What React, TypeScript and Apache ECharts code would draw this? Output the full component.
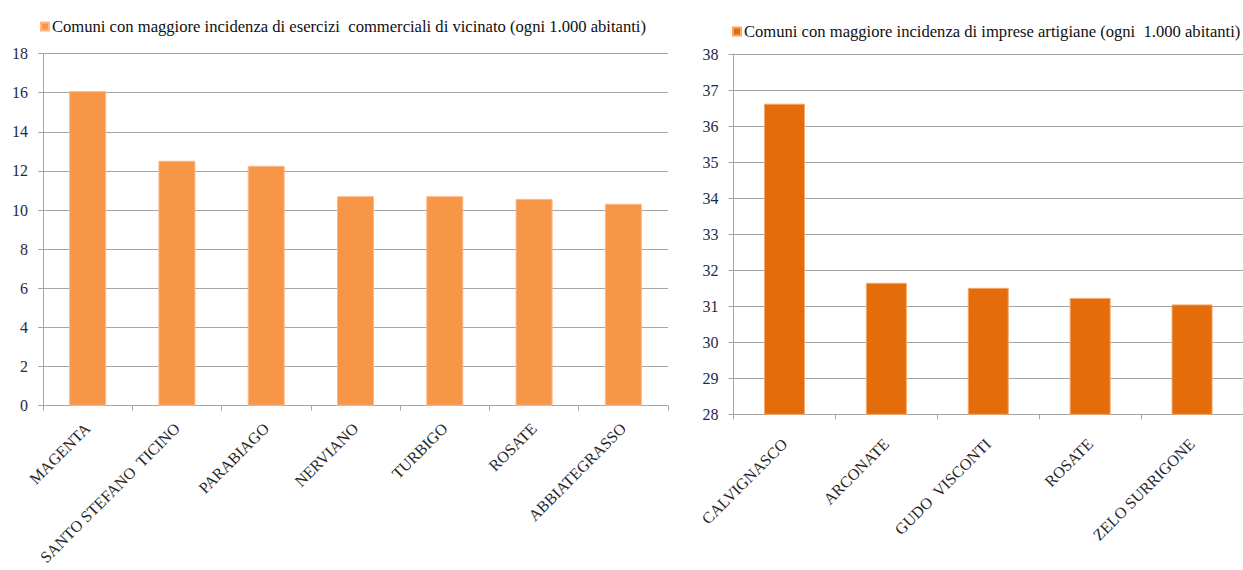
import React, { useEffect, useRef } from "react";
import * as echarts from "echarts";

const leftCategories = ["MAGENTA", "SANTO STEFANO  TICINO", "PARABIAGO", "NERVIANO", "TURBIGO", "ROSATE", "ABBIATEGRASSO"];
const leftValues = [16.08, 12.52, 12.26, 10.71, 10.71, 10.57, 10.32];
const leftName = "Comuni con maggiore incidenza di esercizi  commerciali di vicinato (ogni 1.000 abitanti)";

const rightCategories = ["CALVIGNASCO", "ARCONATE", "GUDO  VISCONTI", "ROSATE", "ZELO SURRIGONE"];
const rightValues = [36.62, 31.65, 31.51, 31.23, 31.05];
const rightName = "Comuni con maggiore incidenza di imprese artigiane (ogni  1.000 abitanti)";

const FONT = "Liberation Serif";
const GRID_COLOR = "#a6a6a6";

export default function App() {
  const ref = useRef<HTMLDivElement>(null);
  useEffect(() => {
    if (!ref.current) return;
    const chart = echarts.init(ref.current, null, { renderer: "svg" });
    const yAxisCommon = {
      type: "value" as const,
      axisLine: { show: true, lineStyle: { color: GRID_COLOR, width: 1 } },
      axisTick: { show: true, length: 5, lineStyle: { color: GRID_COLOR } },
      splitLine: { show: true, lineStyle: { color: GRID_COLOR, width: 1 } },
      axisLabel: { fontFamily: FONT, fontSize: 16, color: "#1f2a48", margin: 15 },
    };
    const xAxisCommon = {
      type: "category" as const,
      axisLine: { show: true, lineStyle: { color: GRID_COLOR, width: 1 } },
      axisTick: { show: true, length: 5, lineStyle: { color: GRID_COLOR } },
    };
    const xLabel = (margin: number) => ({
      fontFamily: FONT,
      fontSize: 16,
      color: "#262626",
      rotate: 45,
      margin,
      interval: 0,
    });
    chart.setOption({
      animation: false,
      backgroundColor: "#ffffff",
      legend: [
        {
          data: [leftName],
          left: 35,
          top: 13,
          icon: "rect",
          itemWidth: 8,
          itemHeight: 8,
          itemGap: 4,
          textStyle: { fontFamily: FONT, fontSize: 16.6, color: "#111111", padding: [0, 0, 0, -2] },
        },
        {
          data: [rightName],
          left: 727,
          top: 18,
          icon: "rect",
          itemWidth: 8,
          itemHeight: 8,
          itemGap: 4,
          textStyle: { fontFamily: FONT, fontSize: 16.6, color: "#111111", padding: [0, 0, 0, -2] },
        },
      ],
      grid: [
        { left: 43, top: 53.5, width: 625, height: 352.2 },
        { left: 733.5, top: 54, width: 509.5, height: 360.3 },
      ],
      xAxis: [
        { ...xAxisCommon, gridIndex: 0, data: leftCategories, axisLabel: xLabel(20) },
        { ...xAxisCommon, gridIndex: 1, data: rightCategories, axisLabel: xLabel(27) },
      ],
      yAxis: [
        { ...yAxisCommon, gridIndex: 0, min: 0, max: 18, interval: 2 },
        { ...yAxisCommon, gridIndex: 1, min: 28, max: 38, interval: 1 },
      ],
      series: [
        {
          name: leftName,
          type: "bar",
          xAxisIndex: 0,
          yAxisIndex: 0,
          data: leftValues,
          barWidth: 37,
          itemStyle: { color: "#F79646", borderColor: "#fbb98a", borderWidth: 1 },
        },
        {
          name: rightName,
          type: "bar",
          xAxisIndex: 1,
          yAxisIndex: 1,
          data: rightValues,
          barWidth: 41,
          itemStyle: { color: "#E46C0A", borderColor: "#f2a86a", borderWidth: 1 },
        },
      ],
    });
    return () => chart.dispose();
  }, []);
  return (
    <div
      ref={ref}
      style={{ position: "fixed", left: 0, top: 0, width: 1243, height: 570 }}
    />
  );
}
